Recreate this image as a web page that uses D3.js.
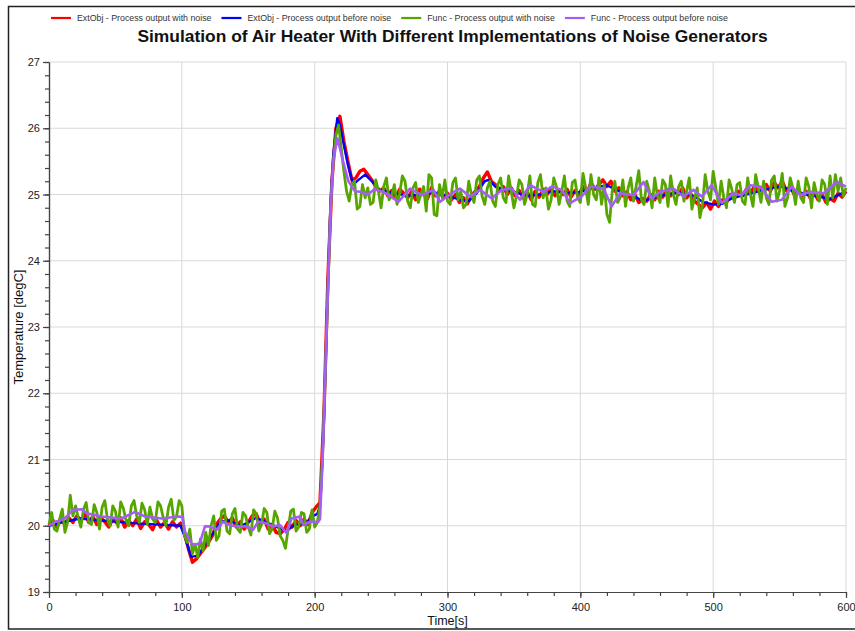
<!DOCTYPE html>
<html>
<head>
<meta charset="utf-8">
<script src="https://cdn.jsdelivr.net/npm/d3@7"></script>
<style>
  body { margin: 0; background: #fff; }
  text { font-family: "Liberation Sans", Arial, sans-serif; }
</style>
</head>
<body>
<script>
// series names + colours (legend order = draw order)
var seriesNames = [
    "ExtObj - Process output with noise",
    "ExtObj - Process output before noise",
    "Func - Process output with noise",
    "Func - Process output before noise"
];
var seriesColors = ["#ff0000", "#0000ff", "#57a600", "#a45ef5"];

var xTicks = [0, 100, 200, 300, 400, 500, 600];
var yTicks = [19, 20, 21, 22, 23, 24, 25, 26, 27];

// ExtObj with noise, one sample every 3 s (t = 0..600)
var extNoiseStep = 3;
var extNoise = [
    20.00, 20.08, 19.98, 20.10, 20.02, 20.12, 20.05, 20.15, 20.08, 20.18,
    20.05, 20.14, 20.02, 20.12, 20.06, 19.98, 20.10, 20.04, 20.12, 19.98,
    20.08, 20.00, 20.10, 19.96, 20.06, 20.02, 19.94, 20.08, 19.98, 20.05,
    19.95, 20.06, 19.98, 20.04, 19.88, 19.65, 19.45, 19.50, 19.58, 19.66,
    19.75, 19.85, 20.02, 20.10, 20.15, 20.05, 20.12, 19.98, 20.06, 19.95,
    20.05, 20.15, 20.18, 20.02, 20.10, 19.95, 20.02, 19.90, 19.88, 19.94,
    20.05, 19.98, 20.08, 20.00, 20.10, 20.02, 20.20, 20.28, 20.35, 21.70,
    23.75, 25.20, 26.00, 26.18, 25.80, 25.50, 25.22, 25.25, 25.35, 25.38,
    25.30, 25.22, 25.12, 25.05, 25.10, 24.98, 25.06, 24.95, 25.08, 25.02,
    24.95, 25.05, 24.92, 25.08, 25.00, 24.94, 25.10, 24.98, 25.05, 24.95,
    25.02, 24.92, 25.00, 24.88, 24.95, 24.86, 24.98, 25.05, 25.12, 25.25,
    25.34, 25.20, 25.15, 25.05, 25.12, 25.00, 25.10, 24.98, 25.06, 24.95,
    25.04, 24.92, 25.05, 24.96, 25.08, 25.00, 25.10, 24.98, 25.06, 25.00,
    25.08, 24.96, 25.06, 25.00, 25.12, 25.02, 25.18, 25.08, 25.15, 25.22,
    25.12, 25.20, 25.05, 25.10, 24.98, 25.04, 24.92, 25.00, 24.88, 24.94,
    24.90, 25.00, 24.92, 25.05, 24.96, 25.08, 24.98, 25.06, 25.00, 25.10,
    24.95, 25.02, 24.90, 24.85, 24.80, 24.88, 24.78, 24.90, 24.82, 24.92,
    24.88, 25.00, 24.94, 25.05, 24.98, 25.08, 25.02, 25.12, 25.04, 25.10,
    25.15, 25.05, 25.18, 25.10, 25.20, 25.06, 25.12, 25.00, 25.08, 24.98,
    25.05, 24.95, 25.02, 24.92, 25.00, 24.88, 24.94, 24.90, 25.02, 24.96,
    25.05
];

// ExtObj before noise, [time, value]
var extClean = [
    [0, 20.0], [10, 20.05], [23, 20.11], [40, 20.08], [63, 20.04], [80, 20.02], [99, 20.0],
    [102, 19.85], [107, 19.53], [112, 19.55], [119, 19.76], [124, 19.9], [129, 20.06], [135, 20.08],
    [145, 20.0], [156, 20.12], [165, 20.04], [174, 19.96], [179, 19.92], [185, 20.02], [192, 20.02],
    [199, 20.15], [202, 20.18], [204, 20.3], [206, 21.1], [208, 22.3], [210, 23.7], [212, 24.9],
    [214, 25.6], [217, 26.15], [219, 26.05], [222, 25.75], [225, 25.45], [227, 25.3], [229, 25.15],
    [233, 25.22], [238, 25.3], [243, 25.2], [249, 25.07], [260, 25.02], [270, 24.98], [280, 25.0],
    [290, 25.03], [300, 24.98], [310, 24.92], [316, 24.9], [322, 25.02], [328, 25.2], [331, 25.22],
    [336, 25.12], [342, 25.08], [350, 25.04], [360, 24.98], [370, 25.0], [380, 25.05], [390, 25.02],
    [400, 25.04], [410, 25.1], [420, 25.14], [426, 25.08], [432, 25.02], [440, 24.98], [447, 24.9],
    [455, 24.95], [465, 25.0], [475, 25.03], [485, 24.98], [493, 24.88], [500, 24.85], [507, 24.86],
    [515, 24.95], [525, 25.0], [535, 25.05], [545, 25.1], [552, 25.12], [560, 25.05], [570, 25.0],
    [580, 24.97], [588, 24.93], [595, 25.0], [600, 25.05]
];

// Func with noise, one sample every 2 s (t = 0..600)
var funcNoiseStep = 2;
var funcNoise = [
    20.02, 20.20, 19.95, 19.92, 20.10, 20.25, 19.90, 20.05, 20.46, 20.15,
    20.30, 20.12, 19.98, 20.25, 20.35, 20.05, 20.02, 20.32, 20.20, 19.95,
    20.28, 20.38, 20.10, 20.00, 20.30, 20.22, 19.98, 20.36, 20.26, 20.08,
    20.00, 20.30, 20.38, 20.15, 20.05, 20.34, 20.24, 20.02, 20.28, 20.10,
    20.05, 20.36, 20.30, 20.12, 20.00, 20.28, 20.40, 20.08, 20.14, 20.38,
    20.30, 19.85, 19.75, 19.95, 19.58, 19.72, 19.52, 19.80, 19.62, 19.90,
    19.70, 20.00, 20.15, 19.78, 19.85, 20.22, 20.25, 19.92, 19.88, 20.18,
    20.26, 19.95, 19.90, 20.20, 20.15, 19.98, 19.86, 20.24, 20.18, 19.92,
    20.02, 20.26, 20.20, 19.88, 19.95, 20.22, 20.12, 19.85, 19.78, 19.66,
    19.95, 20.22, 20.25, 19.92, 19.98, 20.20, 20.18, 19.90, 19.95, 20.24,
    19.98, 20.05, 20.30, 21.10, 22.30, 23.60, 24.80, 25.50, 25.90, 26.05,
    25.70, 25.35, 25.05, 24.90, 25.15, 25.20, 24.78, 24.82, 25.15, 24.95,
    25.10, 24.85, 24.88, 25.22, 25.05, 24.80, 25.12, 25.25, 24.92, 24.98,
    25.15, 24.85, 25.02, 25.28, 25.20, 24.90, 24.80, 25.10, 25.18, 24.88,
    25.00, 25.12, 24.75, 25.30, 25.25, 24.70, 24.68, 25.15, 24.95, 25.22,
    24.90, 24.85, 25.18, 25.25, 24.92, 25.05, 24.80, 24.85, 25.20, 25.00,
    24.88, 25.22, 25.28, 24.98, 24.85, 25.10, 25.20, 24.90, 24.82, 25.15,
    25.25, 24.95, 24.88, 25.28, 25.05, 24.80, 24.98, 25.22, 25.15, 24.85,
    25.00, 25.28, 24.85, 24.82, 25.18, 25.30, 24.95, 25.10, 24.78, 24.92,
    25.25, 25.12, 24.85, 25.05, 25.28, 24.90, 24.82, 25.18, 25.22, 24.95,
    24.88, 25.32, 25.10, 24.85, 25.30, 25.00, 24.92, 25.25, 24.85, 25.15,
    24.70, 24.58, 25.05, 25.20, 24.88, 24.95, 25.22, 24.82, 25.10, 25.25,
    24.90, 25.12, 25.36, 24.92, 24.85, 25.20, 25.05, 24.80, 25.25, 24.98,
    24.88, 25.22, 25.15, 24.82, 25.28, 25.00, 24.85, 25.12, 25.20, 24.90,
    25.05, 25.25, 24.78, 24.95, 25.10, 24.65, 24.85, 25.30, 25.05, 24.92,
    25.35, 25.10, 24.85, 25.20, 24.95, 24.80, 25.22, 25.08, 24.88, 25.15,
    25.18, 24.90, 24.85, 25.25, 25.00, 24.82, 25.30, 25.10, 24.88, 25.20,
    24.95, 24.85, 25.22, 25.28, 24.90, 25.05, 25.32, 24.82, 24.95, 25.25,
    25.10, 24.85, 25.20, 24.95, 24.88, 25.25, 25.12, 24.80, 25.18, 25.00,
    24.90, 25.22, 25.15, 24.85, 25.28, 24.95, 25.30, 25.05, 25.25, 24.98,
    25.10
];

// Func before noise, [time, value]
var funcClean = [
    [0, 20.0], [5, 20.06], [12, 20.11], [18, 20.24], [24.6, 20.25], [28.4, 20.19], [39.6, 20.14],
    [54.7, 20.11], [64.7, 20.21], [72.3, 20.14], [84.8, 20.11], [97.4, 20.14], [100.5, 20.13],
    [102.4, 19.91], [107.4, 19.73], [110, 19.71], [113.6, 19.74], [117.4, 19.99], [121, 19.99],
    [126.3, 19.94], [131, 20.06], [136, 20.01], [141, 19.99], [148.6, 19.99], [153.6, 19.94],
    [157.4, 20.06], [163, 20.04], [168.7, 19.99], [173.8, 20.01], [178.8, 19.89], [182.6, 20.11],
    [188.9, 20.14], [191.4, 20.01], [196.4, 20.06], [202.7, 20.06], [204, 20.1], [206, 21.0],
    [208, 22.3], [210, 23.6], [212, 24.8], [214, 25.5], [217, 25.85], [219, 25.7], [222, 25.45],
    [225.4, 25.2], [230.4, 25.05], [235, 25.04], [240, 25.0], [245, 25.08], [251.7, 25.04],
    [263, 24.89], [271.8, 25.09], [280.6, 24.99], [289.4, 25.07], [294.4, 24.89], [303.2, 25.02],
    [309.4, 25.09], [317, 24.97], [324.5, 25.07], [333.3, 24.94], [340.8, 25.07], [348.3, 25.09],
    [354.6, 24.92], [362.2, 25.14], [372.2, 25.04], [378.5, 25.12], [386, 25.07], [392.3, 24.87],
    [401, 24.97], [407.3, 25.12], [417.4, 25.09], [423.6, 24.82], [429.9, 25.02], [440, 24.99],
    [447.5, 25.19], [453.8, 24.94], [460, 25.04], [470, 25.09], [477.6, 24.97], [485.1, 25.07],
    [491.4, 24.97], [498.9, 25.14], [506.5, 24.87], [515.3, 25.02], [521.5, 24.99], [527.8, 25.14],
    [535.4, 25.12], [544.1, 24.89], [551.7, 24.92], [559.2, 25.12], [565.5, 24.99], [573, 25.04],
    [583.1, 25.02], [593.1, 25.19], [600, 25.12]
];

var W = 855, H = 631;
var plot = { left: 49, right: 846, top: 62, bottom: 592 };

var svg = d3.select("body").append("svg")
    .attr("width", W)
    .attr("height", H);

// outer frame
svg.append("rect")
    .attr("x", 8.5).attr("y", 6.5)
    .attr("width", 860).attr("height", 622.5)
    .attr("fill", "none")
    .attr("stroke", "#222")
    .attr("stroke-width", 1.5);

var x = d3.scaleLinear().domain([0, 600]).range([plot.left, plot.right]);
var y = d3.scaleLinear().domain([19, 27]).range([plot.bottom, plot.top]);

// grid
svg.append("g").selectAll("line")
    .data(yTicks.slice(1))
    .enter().append("line")
    .attr("x1", plot.left).attr("x2", plot.right)
    .attr("y1", function (d) { return y(d); })
    .attr("y2", function (d) { return y(d); })
    .attr("stroke", "#d9d9d9");
svg.append("g").selectAll("line")
    .data(xTicks.slice(1))
    .enter().append("line")
    .attr("y1", plot.top).attr("y2", plot.bottom)
    .attr("x1", function (d) { return x(d); })
    .attr("x2", function (d) { return x(d); })
    .attr("stroke", "#d9d9d9");

// minor ticks
svg.append("g")
    .attr("class", "axis")
    .attr("transform", "translate(0," + plot.bottom + ")")
    .call(d3.axisBottom(x).tickValues(d3.range(0, 601, 20)).tickSize(4).tickSizeOuter(0).tickFormat(""));
svg.append("g")
    .attr("class", "axis")
    .attr("transform", "translate(" + plot.left + ",0)")
    .call(d3.axisLeft(y).tickValues(d3.range(19, 27.01, 0.2)).tickSize(4).tickSizeOuter(0).tickFormat(""));

// major ticks + labels
svg.append("g")
    .attr("class", "axis")
    .attr("transform", "translate(0," + plot.bottom + ")")
    .call(d3.axisBottom(x).tickValues(xTicks).tickSize(6).tickSizeOuter(0).tickPadding(5));
svg.append("g")
    .attr("class", "axis")
    .attr("transform", "translate(" + plot.left + ",0)")
    .call(d3.axisLeft(y).tickValues(yTicks).tickSize(6).tickSizeOuter(0).tickPadding(3));

svg.selectAll(".axis path, .axis line").attr("stroke", "#444").attr("stroke-width", 1.2);
svg.selectAll(".axis text")
    .style("font-family", "'Liberation Sans', Arial, sans-serif")
    .style("font-size", "11px")
    .attr("fill", "#222");

// series
var ptsExtNoise = extNoise.map(function (v, i) { return [i * extNoiseStep, v]; });
var ptsFuncNoise = funcNoise.map(function (v, i) { return [i * funcNoiseStep, v]; });
var allSeries = [ptsExtNoise, extClean, ptsFuncNoise, funcClean];
var widths = [3.4, 2.4, 2.8, 2.6];

var line = d3.line()
    .x(function (d) { return x(d[0]); })
    .y(function (d) { return y(d[1]); });

allSeries.forEach(function (s, i) {
    svg.append("path")
        .datum(s)
        .attr("d", line)
        .attr("fill", "none")
        .attr("stroke", seriesColors[i])
        .attr("stroke-width", widths[i])
        .attr("stroke-linejoin", "round");
});

// legend
var legend = svg.append("g").attr("transform", "translate(0,18)");
var cx = 51;
seriesNames.forEach(function (name, i) {
    legend.append("line")
        .attr("x1", cx).attr("x2", cx + 20)
        .attr("y1", 0).attr("y2", 0)
        .attr("stroke", seriesColors[i])
        .attr("stroke-width", 2.2);
    var t = legend.append("text")
        .attr("x", cx + 26).attr("y", 3.2)
        .style("font-size", "8.8px")
        .attr("fill", "#333")
        .text(name);
    cx += 26 + t.node().getComputedTextLength() + 10;
});

// title
svg.append("text")
    .attr("x", 452.5).attr("y", 42)
    .attr("text-anchor", "middle")
    .style("font-size", "17.4px")
    .style("font-weight", "bold")
    .attr("fill", "#111")
    .text("Simulation of Air Heater With Different Implementations of Noise Generators");

// axis labels
svg.append("text")
    .attr("x", (plot.left + plot.right) / 2).attr("y", 625)
    .attr("text-anchor", "middle")
    .style("font-size", "12.5px")
    .attr("fill", "#111")
    .text("Time[s]");

svg.append("text")
    .attr("transform", "translate(23," + ((plot.top + plot.bottom) / 2) + ") rotate(-90)")
    .attr("text-anchor", "middle")
    .style("font-size", "13px")
    .attr("fill", "#111")
    .text("Temperature [degC]");
</script>
</body>
</html>
